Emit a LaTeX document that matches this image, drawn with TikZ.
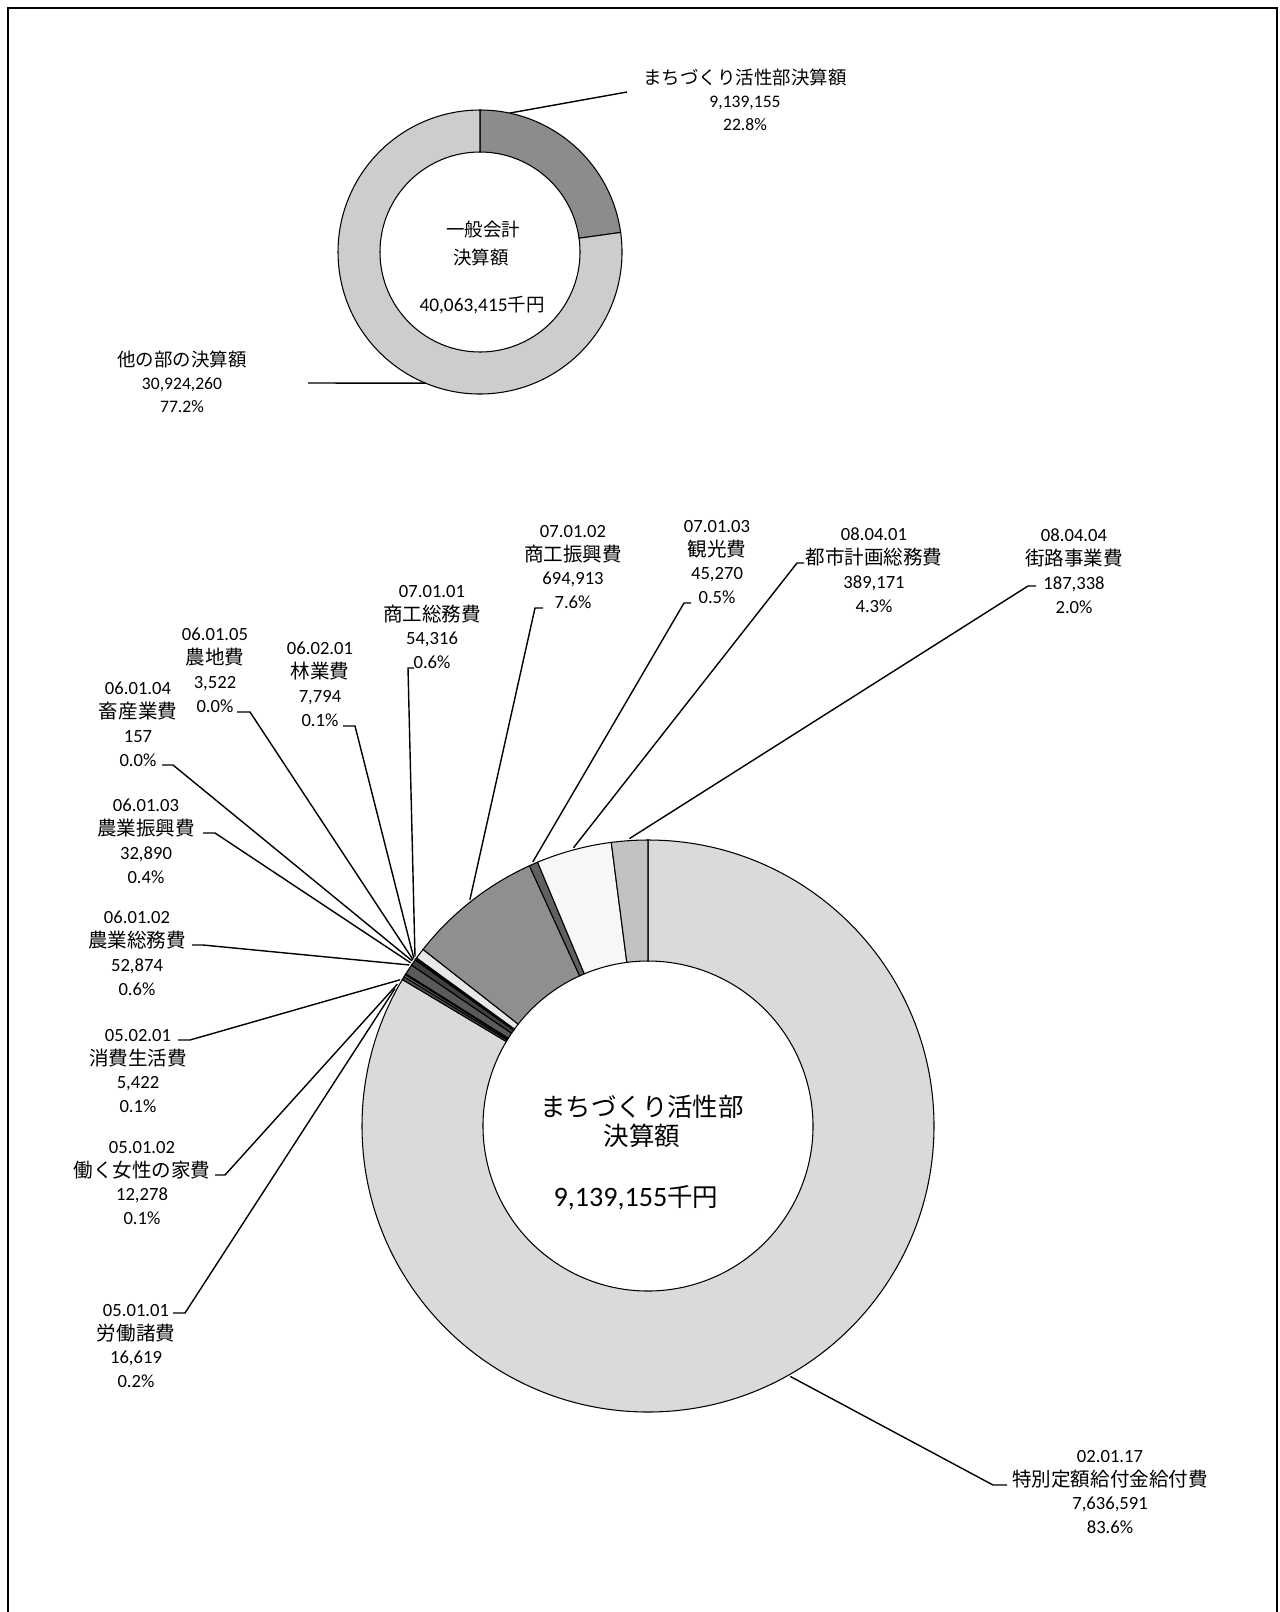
\documentclass[tikz,border=0pt]{standalone}
\usepackage{fontspec}
\setmainfont{Carlito}
\newfontfamily\jp[Scale=1.05]{Noto Sans CJK JP}
\definecolor{smdark}{HTML}{8C8C8C}
\definecolor{smlight}{HTML}{CDCDCD}
\definecolor{g020117}{HTML}{DADADA}
\definecolor{g050101}{HTML}{505050}
\definecolor{g050102}{HTML}{707070}
\definecolor{g050201}{HTML}{303030}
\definecolor{g060102}{HTML}{5A5A5A}
\definecolor{g060103}{HTML}{404040}
\definecolor{g060104}{HTML}{333333}
\definecolor{g060105}{HTML}{222222}
\definecolor{g060201}{HTML}{888888}
\definecolor{g070101}{HTML}{E8E8E8}
\definecolor{g070102}{HTML}{8F8F8F}
\definecolor{g070103}{HTML}{606060}
\definecolor{g080401}{HTML}{F7F7F7}
\definecolor{g080404}{HTML}{C2C2C2}
\usetikzlibrary{positioning}

\begin{document}
\begin{tikzpicture}[x=0.02cm,y=0.02cm,
  lbl/.style={align=center,inner sep=0pt,font=\fontsize{10.6}{13.6}\selectfont},
  lblsm/.style={align=center,inner sep=0pt,font=\fontsize{10}{13}\selectfont},
  ctrbig/.style={inner sep=0pt,font=\fontsize{13.8}{17}\selectfont},
  ctrsm/.style={inner sep=0pt,font=\fontsize{10}{12}\selectfont},
  lead/.style={line width=0.8pt},
  seg/.style={draw=black,line width=0.6pt}]
\useasboundingbox (0,0) rectangle (1280,-1612);
\draw[line width=1.4pt] (8,-1612) |- (1277,-8) -- (1277,-1612);

\begin{scope}[shift={(480,-252)}]
\foreach \a/\b/\c in {90/7.92/smdark,7.92/-270/smlight}
  \filldraw[fill=\c,seg] (\a:142) arc[start angle=\a,end angle=\b,radius=142]
    -- (\b:100) arc[start angle=\b,end angle=\a,radius=100] -- cycle;
\coordinate (rtop) at (78:142);
\coordinate (rothr) at (247.5:142);
\end{scope}
\node[ctrsm] (smA) at (483,-230) {\jp 一般会計};
\node[ctrsm] (smB) at (481,-257) {\jp 決算額};
\node[ctrsm] (smC) at (482,-305) {{\fontsize{11}{12}\selectfont 40,063,415}{\jp 千円}};

\node[lblsm] (ltop) at (745,-100) {{\jp まちづくり活性部決算額}\\9,139,155\\22.8\%};
\node[lblsm] (lothr) at (182,-382) {{\jp 他の部の決算額}\\30,924,260\\77.2\%};
\coordinate (ttop) at (627,-92);
\coordinate (tothr) at (308,-383);
\draw[lead] (ttop) -- (rtop);
\draw[lead] (tothr) -- (rothr);

\begin{scope}[shift={(648,-1126)}]
\foreach \a/\b/\c in {90/-210.811/g020117,-210.811/-211.465/g050101,
  -211.465/-211.949/g050102,-211.949/-212.162/g050201,-212.162/-214.245/g060102,
  -214.245/-215.541/g060103,-215.541/-215.547/g060104,-215.547/-215.685/g060105,
  -215.685/-215.992/g060201,-215.992/-218.132/g070101,-218.132/-245.505/g070102,
  -245.505/-247.288/g070103,-247.288/-262.618/g080401,-262.618/-270/g080404}
  \filldraw[fill=\c,seg] (\a:286) arc[start angle=\a,end angle=\b,radius=286]
    -- (\b:165) arc[start angle=\b,end angle=\a,radius=165] -- cycle;
\foreach \k/\w in {020117/-60.4,050101/151.5,050102/150.5,050201/149.5,
  060102/146,060103/145.5,060104/145,060105/144.7,060201/144.4,
  070101/144,070102/128.2,070103/113.6,080401/105,080404/93.7}
  \coordinate (r\k) at (\w:288);
\end{scope}
\node[ctrbig] (bigA) at (642,-1107) {\jp まちづくり活性部};
\node[ctrbig] (bigB) at (642,-1136) {\jp 決算額};
\node[ctrbig] (bigC) at (636,-1198) {{\fontsize{16}{18}\selectfont 9,139,155}{\jp 千円}};

\node[lbl] (n080404) at (1074,-571) {08.04.04\\{\jp 街路事業費}\\187,338\\2.0\%};
\node[lbl] (n080401) at (874,-570) {08.04.01\\{\jp 都市計画総務費}\\389,171\\4.3\%};
\node[lbl] (n070103) at (717,-562) {07.01.03\\{\jp 観光費}\\45,270\\0.5\%};
\node[lbl] (n070102) at (573,-567) {07.01.02\\{\jp 商工振興費}\\694,913\\7.6\%};
\node[lbl] (n070101) at (432,-627) {07.01.01\\{\jp 商工総務費}\\54,316\\0.6\%};
\node[lbl] (n060201) at (320,-684) {06.02.01\\{\jp 林業費}\\7,794\\0.1\%};
\node[lbl] (n060105) at (215,-670) {06.01.05\\{\jp 農地費}\\3,522\\0.0\%};
\node[lbl] (n060104) at (138,-724) {06.01.04\\{\jp 畜産業費}\\157\\0.0\%};
\node[lbl] (n060103) at (146,-841) {06.01.03\\{\jp 農業振興費}\\32,890\\0.4\%};
\node[lbl] (n060102) at (137,-953) {06.01.02\\{\jp 農業総務費}\\52,874\\0.6\%};
\node[lbl] (n050201) at (138,-1071) {05.02.01\\{\jp 消費生活費}\\5,422\\0.1\%};
\node[lbl] (n050102) at (142,-1183) {05.01.02\\{\jp 働く女性の家費}\\12,278\\0.1\%};
\node[lbl] (n050101) at (136,-1346) {05.01.01\\{\jp 労働諸費}\\16,619\\0.2\%};
\node[lbl] (n020117) at (1110,-1492) {02.01.17\\{\jp 特別定額給付金給付費}\\7,636,591\\83.6\%};

\foreach \k/\x/\y/\d in {080404/1036/586/-8,080401/804/563/-7,070103/691/603/-7,
  070102/543/608/-8,070101/414/668/-6,060201/343/726/12,060105/237/712/13,
  060104/162/765/11,060103/203/833/12,060102/192/945/11,050201/178/1040/12,
  050102/215/1175/10,050101/173/1313/12,020117/1007/1485/-14}
{
  \coordinate (t\k) at (\x,-\y);
  \draw[lead] (t\k) -- ++(\d,0) -- (r\k);
}
\end{tikzpicture}
\end{document}
